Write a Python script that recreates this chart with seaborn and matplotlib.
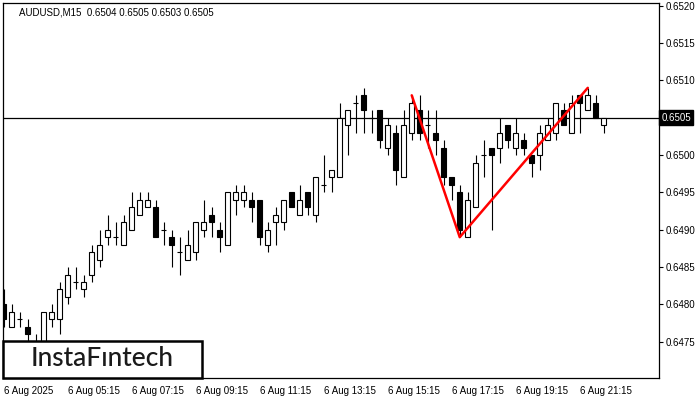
import numpy as np
import pandas as pd
import seaborn as sns
import matplotlib
matplotlib.use("Agg")
import matplotlib.pyplot as plt
from matplotlib.patches import Rectangle
from matplotlib.transforms import blended_transform_factory

# AUDUSD M15 candles, 6 Aug 2025 03:15 .. 22:00
open_ = [0.6480, 0.6477, 0.6478, 0.6477, 0.6474, 0.6474, 0.6478, 0.6478, 0.6481, 0.6483,
         0.6482, 0.6484, 0.6486, 0.6489, 0.6489, 0.6488, 0.6490, 0.6492, 0.6493, 0.6493,
         0.6490, 0.6489, 0.6487, 0.6486, 0.6487, 0.6490, 0.6492, 0.6490, 0.6488, 0.6494,
         0.6494, 0.6494, 0.6494, 0.6488, 0.6491, 0.6491, 0.6495, 0.6492, 0.6495, 0.6492,
         0.6496, 0.6497, 0.6497, 0.6504, 0.6507, 0.6508, 0.6505, 0.6506, 0.6501, 0.6503,
         0.6497, 0.6503, 0.6506, 0.6504, 0.6503, 0.6501, 0.6497, 0.6495, 0.6489, 0.6493,
         0.6500, 0.6501, 0.6501, 0.6504, 0.6501, 0.6502, 0.6500, 0.6500, 0.6502, 0.6503,
         0.6506, 0.6503, 0.6508, 0.6506, 0.6507, 0.6504]
high = [0.6482, 0.6480, 0.6479, 0.6478, 0.6476, 0.6479, 0.6480, 0.6483, 0.6485, 0.6485,
        0.6484, 0.6488, 0.6490, 0.6492, 0.6491, 0.6492, 0.6495, 0.6495, 0.6495, 0.6494,
        0.6491, 0.6490, 0.6489, 0.6490, 0.6491, 0.6494, 0.6493, 0.6491, 0.6495, 0.6496,
        0.6496, 0.6495, 0.6494, 0.6491, 0.6493, 0.6494, 0.6495, 0.6496, 0.6495, 0.6497,
        0.6500, 0.6498, 0.6507, 0.6506, 0.6508, 0.6509, 0.6506, 0.6506, 0.6505, 0.6504,
        0.6506, 0.6508, 0.6508, 0.6506, 0.6506, 0.6502, 0.6497, 0.6496, 0.6495, 0.6500,
        0.6502, 0.6501, 0.6505, 0.6504, 0.6505, 0.6503, 0.6500, 0.6504, 0.6505, 0.6507,
        0.6507, 0.6508, 0.6508, 0.6509, 0.6508, 0.6505]
low = [0.6477, 0.6477, 0.6477, 0.6474, 0.6473, 0.6473, 0.6477, 0.6476, 0.6480, 0.6482,
       0.6481, 0.6483, 0.6485, 0.6488, 0.6488, 0.6488, 0.6490, 0.6492, 0.6493, 0.6489,
       0.6488, 0.6485, 0.6484, 0.6486, 0.6486, 0.6489, 0.6489, 0.6487, 0.6488, 0.6492,
       0.6493, 0.6491, 0.6488, 0.6487, 0.6488, 0.6490, 0.6493, 0.6492, 0.6492, 0.6491,
       0.6495, 0.6495, 0.6497, 0.6500, 0.6503, 0.6503, 0.6503, 0.6501, 0.6500, 0.6496,
       0.6497, 0.6502, 0.6502, 0.6501, 0.6500, 0.6496, 0.6494, 0.6489, 0.6489, 0.6493,
       0.6497, 0.6490, 0.6499, 0.6501, 0.6500, 0.6500, 0.6497, 0.6498, 0.6502, 0.6502,
       0.6504, 0.6503, 0.6503, 0.6506, 0.6505, 0.6503]
close = [0.6478, 0.6479, 0.6478, 0.6476, 0.6475, 0.6479, 0.6479, 0.6482, 0.6484, 0.6483,
         0.6483, 0.6487, 0.6488, 0.6490, 0.6489, 0.6491, 0.6493, 0.6494, 0.6494, 0.6489,
         0.6490, 0.6488, 0.6487, 0.6488, 0.6491, 0.6491, 0.6491, 0.6489, 0.6495, 0.6495,
         0.6495, 0.6493, 0.6489, 0.6490, 0.6492, 0.6494, 0.6493, 0.6494, 0.6493, 0.6497,
         0.6496, 0.6498, 0.6505, 0.6506, 0.6507, 0.6506, 0.6505, 0.6502, 0.6504, 0.6498,
         0.6504, 0.6507, 0.6503, 0.6504, 0.6502, 0.6497, 0.6496, 0.6490, 0.6494, 0.6499,
         0.6500, 0.6500, 0.6503, 0.6502, 0.6503, 0.6501, 0.6499, 0.6503, 0.6504, 0.6507,
         0.6504, 0.6507, 0.6507, 0.6508, 0.6505, 0.6505]

tick_bars = [0, 8, 16, 24, 32, 40, 48, 56, 64, 72]
tick_labels = ["6 Aug 2025", "6 Aug 05:15", "6 Aug 07:15", "6 Aug 09:15", "6 Aug 11:15",
               "6 Aug 13:15", "6 Aug 15:15", "6 Aug 17:15", "6 Aug 19:15", "6 Aug 21:15"]
price_ticks = [0.6475, 0.6480, 0.6485, 0.6490, 0.6495, 0.6500, 0.6505, 0.6510, 0.6515, 0.6520]
last_price = 0.6505

# double top: peak, trough, peak
pattern_bars = [51, 57, 73]

sns.set_theme(style="white", rc={
    "axes.edgecolor": "black",
    "axes.linewidth": 0.9,
    "xtick.color": "black",
    "ytick.color": "black",
    "xtick.labelsize": 7,
    "ytick.labelsize": 7,
})
plt.rcParams["font.family"] = ["Liberation Sans", "DejaVu Sans"]

df = pd.DataFrame({"bar": np.arange(len(open_)), "open": open_, "high": high,
                   "low": low, "close": close})
df["bottom"] = df[["open", "close"]].min(axis=1)
df["height"] = (df["close"] - df["open"]).abs()
df["fill"] = np.where(df["close"] >= df["open"], "white", "black")

fig = plt.figure(figsize=(7, 4), dpi=100)
ax = fig.add_axes([2.5 / 700, 1 - 378 / 400, (659 - 2.5) / 700, (378 - 2.5) / 400])

ax.vlines(df["bar"], df["low"], df["high"], color="black", linewidth=0.8, zorder=2)
ax.bar(df["bar"], df["height"], bottom=df["bottom"], width=0.62, color=df["fill"],
       edgecolor="black", linewidth=0.8, zorder=3)

ax.axhline(last_price, color="black", linewidth=0.9, zorder=1)

pat = df.loc[pattern_bars]
pattern_prices = [pat["high"].iloc[0], pat["low"].iloc[1], pat["high"].iloc[2]]
sns.lineplot(x=pattern_bars, y=pattern_prices, sort=False, color="red",
             linewidth=1.8, ax=ax, zorder=4)

ax.set_xlim(-0.14, 81.9)
ax.set_ylim(0.647014, 0.652043)
ax.set_xlabel("")
ax.set_ylabel("")

ax.yaxis.tick_right()
ax.set_yticks(price_ticks)
# the last-price box sits on the 0.6505 tick, so that tick gets no plain label
ax.set_yticklabels(["" if p == last_price else f"{p:.4f}" for p in price_ticks])
ax.set_xticks(tick_bars)
ax.set_xticklabels(tick_labels, ha="left")
ax.tick_params(axis="both", direction="out", length=3, width=0.8, pad=2)
ax.tick_params(axis="x", pad=3)

# current price box on the right scale
trans = blended_transform_factory(ax.transAxes, ax.transData)
ax.text(1.004, last_price, f"{last_price:.4f}", transform=trans, ha="left", va="center",
        color="white", fontsize=7, zorder=6,
        bbox=dict(facecolor="black", edgecolor="black", pad=1.6))

fig.text(19 / 700, 1 - 12.5 / 400, "AUDUSD,M15  0.6504 0.6505 0.6503 0.6505",
         ha="left", va="center", fontsize=7, color="black")

# watermark logo box
fig.add_artist(Rectangle((3 / 700, 1 - 378 / 400), 199 / 700, 37 / 400,
                         transform=fig.transFigure, facecolor="white",
                         edgecolor="black", linewidth=1.8, zorder=10))
fig.text(102 / 700, 1 - 358.5 / 400, "InstaFıntech", ha="center", va="center",
         fontsize=19, fontweight="medium", color="#1a1a1a",
         family=["Lato", "DejaVu Sans"], zorder=11)

fig.savefig("out.png", dpi=100)
